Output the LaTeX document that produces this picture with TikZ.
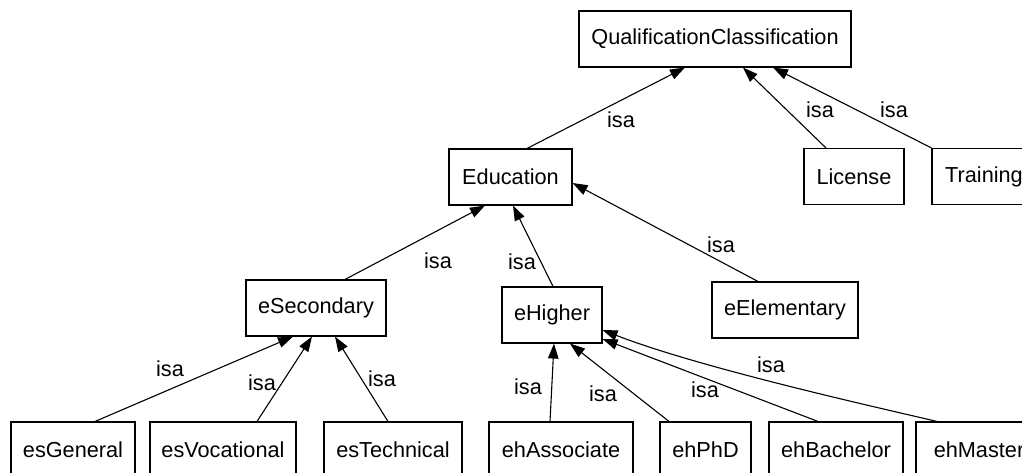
\documentclass[tikz,border=0pt]{standalone}
\usepackage{fontspec}
\setmainfont{Liberation Sans}
\usetikzlibrary{arrows.meta}
\begin{document}
\begin{tikzpicture}[x=1pt,y=-1pt,
  box/.style={draw,line width=1.1pt,inner sep=0pt,minimum height=56pt,
    font=\fontsize{21.7}{26}\selectfont},
  isalabel/.style={inner sep=0pt,font=\fontsize{21.7}{26}\selectfont},
  isa/.style={line width=1.1pt,-{Triangle[length=15pt,width=10.5pt]}}]
\useasboundingbox (0,0) rectangle (1022,472);
\clip (0,0) rectangle (1022,472);

% classes
\node[box,minimum width=272pt] (qc)  at (715,39)    {QualificationClassification};
\node[box,minimum width=123pt] (edu) at (510.5,177) {Education};
\node[box,minimum width=100pt] (lic) at (854,176.5) {License};
\node[box,minimum width=104pt] (trn) at (984,176.5) {Training};
\node[box,minimum width=140pt] (sec) at (316,308)   {eSecondary};
\node[box,minimum width=100pt] (hig) at (552,315)   {eHigher};
\node[box,minimum width=146pt] (ele) at (785,310)   {eElementary};
\node[box,minimum width=124pt] (esg) at (73,450)    {esGeneral};
\node[box,minimum width=146pt] (esv) at (223,450)   {esVocational};
\node[box,minimum width=138pt] (est) at (393,450)   {esTechnical};
\node[box,minimum width=144pt] (eha) at (561,450)   {ehAssociate};
\node[box,minimum width=91pt]  (ehp) at (705.5,450) {ehPhD};
\node[box,minimum width=134pt] (ehb) at (836,450)   {ehBachelor};
\node[box,minimum width=126pt] (ehm) at (979,450)   {ehMaster};

% isa links
\draw[isa] ([xshift=16.5pt]edu.north) -- ([xshift=-30pt]qc.south);
\draw[isa] ([xshift=-28pt]lic.north)  -- ([xshift=28pt]qc.south);
\draw[isa] (trn.north west)           -- ([xshift=58pt]qc.south);
\draw[isa] ([xshift=29pt]sec.north)   -- ([xshift=-25.5pt]edu.south);
\draw[isa] ([xshift=1pt]hig.north)    -- ([xshift=2.5pt]edu.south);
\draw[isa] ([xshift=-27pt]ele.north)  -- ([yshift=-6pt]edu.east);
\draw[isa] ([xshift=22pt]esg.north)   -- ([xshift=-23pt]sec.south);
\draw[isa] ([xshift=34pt]esv.north)   -- ([xshift=-4pt]sec.south);
\draw[isa] ([xshift=-5pt]est.north)   -- ([xshift=19pt]sec.south);
\draw[isa] ([xshift=-11pt]eha.north)  -- ([xshift=2pt]hig.south);
\draw[isa] ([xshift=-36.5pt]ehp.north) -- ([xshift=18pt]hig.south);
\draw[isa] ([xshift=-18pt]ehb.north)  -- ([yshift=-24pt]hig.east);
\draw[isa] ([xshift=-42pt]ehm.north) .. controls (880,408) and (700,368) .. ([yshift=-15pt]hig.east);

% link labels
\node[isalabel] (l1)  at (621,120) {isa};
\node[isalabel] (l2)  at (820,110) {isa};
\node[isalabel] (l3)  at (894,110) {isa};
\node[isalabel] (l4)  at (438,261) {isa};
\node[isalabel] (l5)  at (522,262) {isa};
\node[isalabel] (l6)  at (721,245) {isa};
\node[isalabel] (l7)  at (170,369) {isa};
\node[isalabel] (l8)  at (262,383) {isa};
\node[isalabel] (l9)  at (382,379) {isa};
\node[isalabel] (l10) at (528,387) {isa};
\node[isalabel] (l11) at (603,394) {isa};
\node[isalabel] (l12) at (705,390) {isa};
\node[isalabel] (l13) at (771,365) {isa};
\end{tikzpicture}
\end{document}
